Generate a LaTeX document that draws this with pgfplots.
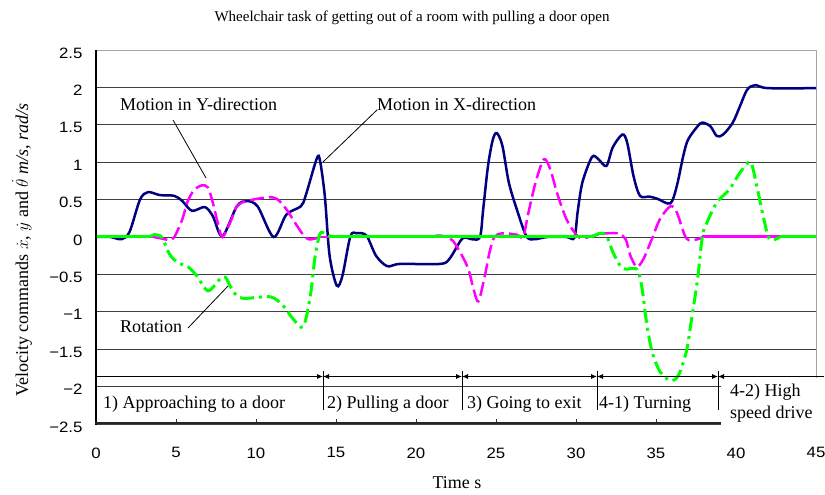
\documentclass[border=0pt]{standalone}
\usepackage{fontspec}
\setmainfont{Liberation Serif}
\newfontfamily\tickfont{Liberation Sans}[FakeStretch=1.12]
\usepackage{pgfplots}
\pgfplotsset{compat=1.18}
\usetikzlibrary{arrows.meta}
\definecolor{navy}{RGB}{0,0,128}
\definecolor{mag}{RGB}{255,0,255}
\definecolor{lime}{RGB}{0,255,0}
\newcommand{\fs}[1]{\fontsize{#1}{#1}\selectfont}
\begin{document}
\begin{tikzpicture}[x=1pt,y=1pt]
\begin{axis}[
  at={(96pt,71pt)}, anchor=south west,
  width=720pt, height=374pt, scale only axis,
  xmin=0, xmax=45, ymin=-2.5, ymax=2.5,
  axis line style={draw=gray!70, line width=1pt},
  xtick={0,5,...,45}, ytick={-2.5,-2,...,2.5},
  yticklabels={−2.5,−2,−1.5,−1,−0.5,0,0.5,1,1.5,2,2.5},
  xtick pos=bottom, ytick pos=left,
  ymajorgrids, grid style={gray!50!black, line width=0.8pt},
  tick align=inside, major tick length=5pt,
  xtick style={draw=gray!40!black, line width=0.8pt},
  ytick style={draw=none},
  /pgf/number format/assume math mode=true,
  xticklabel style={font=\tickfont\fs{15pt}, yshift=-20pt},
  yticklabel style={font=\tickfont\fs{15pt}, xshift=-10pt, yshift=-3pt},
]
% Motion in X-direction
\addplot[navy, line width=2.5pt, smooth, tension=0.5] coordinates {
(0,0) (0.9,0) (1.6,-0.03) (2.1,0.07) (2.75,0.5) (3.25,0.6) (4,0.56) (4.9,0.55) (5.4,0.48) (6,0.35) (6.8,0.4) (7.3,0.28) (7.9,0.01) (8.8,0.41) (9.4,0.48) (10.1,0.41) (11.1,0.0) (11.9,0.3) (12.8,0.41) (13.1,0.55) (13.8,1.05) (14.0,1.02) (14.3,0.55) (14.6,-0.25) (15.05,-0.65) (15.4,-0.52) (15.9,0.01) (16.3,0.05) (16.9,0.02) (17.5,-0.25) (18.2,-0.39) (19,-0.36) (21.5,-0.36) (22.1,-0.29) (22.9,-0.02) (23.5,-0.03) (24,0.0) (24.2,0.37) (24.5,0.95) (24.8,1.3) (25.05,1.39) (25.4,1.22) (25.8,0.73) (26.3,0.37) (26.9,0.01) (27.4,-0.03) (28.2,0) (29.4,0) (29.9,-0.01) (30.1,0.33) (30.4,0.73) (31,1.07) (31.4,1.04) (31.9,0.95) (32.3,1.2) (32.9,1.37) (33.2,1.26) (33.6,0.81) (34,0.55) (34.6,0.54) (35.1,0.51) (35.9,0.45) (36.3,0.68) (36.7,1.08) (37,1.3) (37.6,1.48) (37.9,1.53) (38.4,1.48) (38.8,1.35) (39.2,1.37) (39.8,1.53) (40.25,1.75) (40.7,1.97) (41.2,2.03) (42,1.99) (45,1.99)
};
% Motion in Y-direction
\addplot[mag, line width=2.5pt] coordinates {(0,0) (3.6,0)};
\addplot[mag, line width=2.5pt, smooth, tension=0.5, dash pattern=on 14pt off 5pt] coordinates {
(3.6,0) (4.1,-0.02) (4.6,-0.04) (4.9,0) (5.4,0.24) (5.7,0.46) (6.1,0.62) (6.6,0.69) (7,0.66) (7.3,0.46) (7.6,0.2) (7.9,0.0) (8.4,0.2) (8.8,0.41) (9.4,0.48) (10.7,0.53) (11.3,0.51) (11.9,0.37) (12.5,0.17) (13.1,-0.01) (13.5,-0.03) (14,0)
};
\addplot[mag, line width=2.5pt] coordinates {(14,0) (21,0)};
\addplot[mag, line width=2.5pt, smooth, tension=0.5, dash pattern=on 14pt off 5pt] coordinates {
(21,0) (21.5,0.02) (22.3,-0.05) (23.2,-0.39) (23.6,-0.7) (23.9,-0.86) (24.3,-0.52) (24.6,-0.2) (24.9,0) (25.4,0.05) (26.3,0.03) (26.7,0) (27.0,0.3) (27.5,0.75) (28,1.04) (28.4,0.9) (28.8,0.6) (29.4,0.24) (30.1,0.01) (30.6,-0.01) (31.5,0.04) (32.6,0.05) (33.1,-0.03) (33.4,-0.25) (33.8,-0.4) (34.2,-0.3) (34.7,-0.05) (35.25,0.24) (35.9,0.41) (36.3,0.33) (36.9,-0.02) (37.6,-0.03) (37.9,0)
};
\addplot[mag, line width=3pt] coordinates {(37.9,0) (45,0)};
% Rotation
\addplot[lime, line width=3pt] coordinates {(0,0) (3.4,0)};
\addplot[lime, line width=3pt, smooth, tension=0.5, dash pattern=on 14pt off 5pt on 3pt off 5pt] coordinates {
(3.4,0) (3.6,0.03) (4.1,0) (4.6,-0.23) (5.1,-0.34) (5.75,-0.4) (6.3,-0.52) (7,-0.72) (7.75,-0.56) (8.1,-0.54) (8.6,-0.74) (9.2,-0.82) (10.9,-0.8) (11.7,-0.92) (12.3,-1.09) (12.95,-1.2) (13.4,-0.78) (13.7,-0.25) (14,0.04) (14.3,0.05) (14.7,0)
};
\addplot[lime, line width=3pt] coordinates {(14.7,0) (31,0)};
\addplot[lime, line width=3pt, smooth, tension=0.5, dash pattern=on 14pt off 5pt on 3pt off 5pt] coordinates {
(31,0) (31.5,0.05) (31.9,0.02) (32.3,-0.2) (32.75,-0.38) (33.1,-0.43) (33.8,-0.43) (34.1,-0.65) (34.4,-1.13) (34.75,-1.53) (35.25,-1.8) (35.9,-1.92) (36.4,-1.85) (36.9,-1.53) (37.2,-1.13) (37.6,-0.56) (37.9,0.01) (38.2,0.2) (38.8,0.46) (39.6,0.64) (40.25,0.86) (40.9,1.0) (41.3,0.68) (41.7,0.28) (42.1,-0.03) (42.75,0)
};
\addplot[lime, line width=3pt] coordinates {(42.75,0) (45,0)};
\end{axis}
% axis lines
\draw[black, line width=1.6pt] (96,70.2) -- (96,445);
\draw[gray!30!black, line width=2pt] (95.2,72) -- (725,72);
% box for 4-2
\fill[white] (721,62) rectangle (825,116.5);
% phase arrows
\begin{scope}[line width=0.8pt, >={Latex[length=6pt,width=5pt]}]
\draw[->] (96,118.5) -- (323,118.5);
\draw[<->] (323,118.5) -- (462,118.5);
\draw[<->] (462,118.5) -- (597,118.5);
\draw[<->] (597,118.5) -- (718,118.5);
\draw[<-] (718,118.5) -- (824,118.5);
\draw (323,124) -- (323,85);
\draw (462,124) -- (462,85);
\draw (597,124) -- (597,85);
\draw (718,124) -- (718,85);
\end{scope}
\begin{scope}[every node/.style={inner sep=0pt, font=\fs{18pt}}]
\node[anchor=base west] at (103,86) {1) Approaching to a door};
\node[anchor=base west] at (327,86) {2) Pulling a door};
\node[anchor=base west] at (467,86) {3) Going to exit};
\node[anchor=base west] at (599,86) {4-1) Turning};
\node[anchor=base west] at (730,98) {4-2) High};
\node[anchor=base west] at (730,76) {speed drive};
\node[anchor=base west] at (120,384) {Motion in Y-direction};
\node[anchor=base west] at (377,384) {Motion in X-direction};
\node[anchor=base west] at (120,162) {Rotation};
\node[anchor=base] at (457,6) {Time s};
\node[rotate=90, anchor=center] at (22,245) {Velocity commands $\dot{x}$, $\dot{y}$ and $\dot{\theta}$ \textit{m/s, rad/s}};
\node[anchor=base, font=\fs{15pt}] at (412,473) {Wheelchair task of getting out of a room with pulling a door open};
\end{scope}
% leaders
\draw[black, line width=0.8pt] (173,375) -- (206,317);
\draw[black, line width=0.8pt] (377,385) -- (323,333);
\draw[black, line width=0.8pt] (188,167) -- (228,209);
\pgfresetboundingbox
\path[use as bounding box] (0,0) rectangle (825,495);
\end{tikzpicture}
\end{document}
